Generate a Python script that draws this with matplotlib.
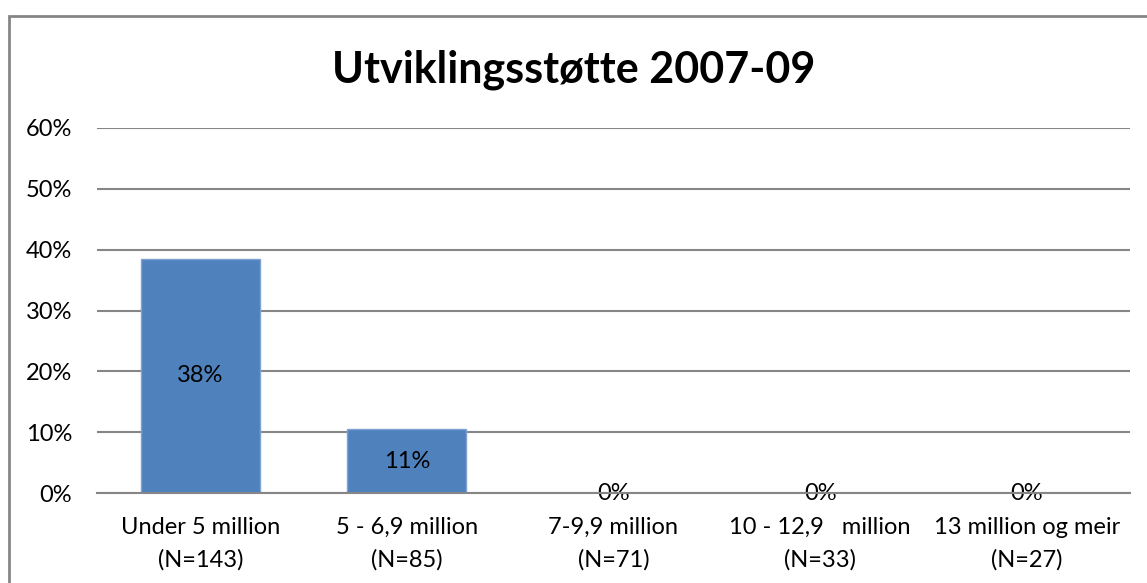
import matplotlib.pyplot as plt
from matplotlib.patches import Rectangle

# data
categories = ["Under 5 million\n(N=143)", "5 - 6,9 million\n(N=85)", "7-9,9 million\n(N=71)",
              "10 - 12,9   million\n(N=33)", "13 million og meir\n(N=27)"]
values = [38.5, 10.5, 0.0, 0.0, 0.0]
value_labels = ["38%", "11%", "0%", "0%", "0%"]
yticks = [0, 10, 20, 30, 40, 50, 60]
ytick_labels = ["0%", "10%", "20%", "30%", "40%", "50%", "60%"]
title = "Utviklingsstøtte 2007-09"

plt.rcParams["font.family"] = ["Lato", "DejaVu Sans"]

fig = plt.figure(figsize=(11.47, 5.83), dpi=100)
ax = fig.add_axes([97 / 1147, 90 / 583, 1033 / 1147, 365 / 583])

grid_col = "#868686"
fs = 17
x = range(len(categories))
ax.bar(x, values, width=0.576, color="#4F81BD", edgecolor="#7DA2D3", linewidth=1, zorder=3)

for i, (v, lab) in enumerate(zip(values, value_labels)):
    ax.text(i, v / 2, lab, ha="center", va="center", fontsize=fs, color="black", zorder=4)

ax.set_xlim(-0.5, len(categories) - 0.5)
ax.set_ylim(0, 60)
ax.set_yticks(yticks)
ax.set_yticklabels(ytick_labels, fontsize=fs)
ax.set_xticks(list(x))
ax.set_xticklabels(categories, fontsize=fs, linespacing=1.68)
ax.tick_params(axis="both", length=0)
ax.tick_params(axis="y", pad=18)
ax.tick_params(axis="x", pad=17)
ax.yaxis.grid(True, color=grid_col, linewidth=1.5, zorder=0)
for s in ["top", "right", "left"]:
    ax.spines[s].set_visible(False)
ax.spines["bottom"].set_color(grid_col)
ax.spines["bottom"].set_linewidth(1.5)
ax.spines["bottom"].set_zorder(5)

fig.text(0.5, (583 - 70) / 583, title, ha="center", va="center", fontsize=31, fontweight="bold")

# chart border (runs off the right and bottom edges)
fig.patches.append(Rectangle((9 / 1147, -0.1), 1.1, (583 - 16) / 583 + 0.1, transform=fig.transFigure,
                             fill=False, edgecolor=grid_col, linewidth=2))

fig.savefig("out.png", dpi=100)
